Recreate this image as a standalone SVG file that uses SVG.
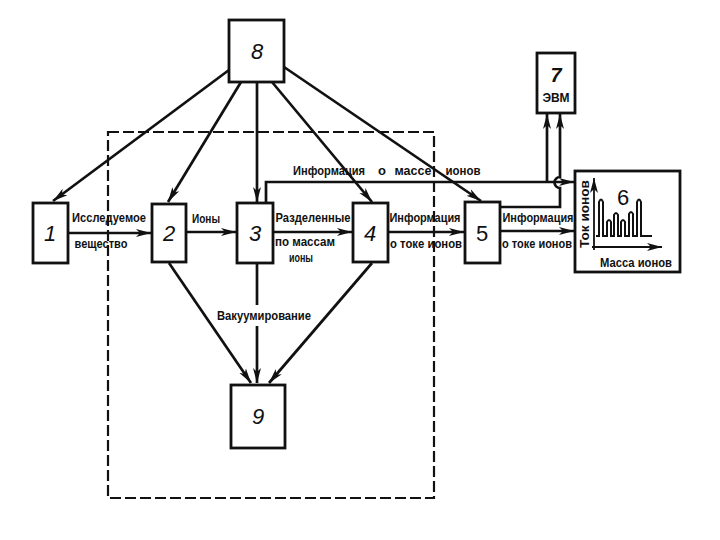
<svg xmlns="http://www.w3.org/2000/svg" width="720" height="540" viewBox="0 0 720 540">
<style>
.box{fill:#fff;stroke:#111;stroke-width:2.8}
.ln{fill:none;stroke:#111;stroke-width:2.7}
.num{font-family:"Liberation Sans",Arial,sans-serif;font-size:22px;font-style:italic;fill:#111;text-anchor:middle}
.lb{font-family:"Liberation Sans",Arial,sans-serif;font-size:13px;font-weight:bold;fill:#111}
.dash{fill:none;stroke:#111;stroke-width:2.2;stroke-dasharray:11 4}
</style>
<defs>
<marker id="ah" markerUnits="userSpaceOnUse" markerWidth="16" markerHeight="10" refX="15" refY="5" orient="auto">
<path d="M0,1 L15,5 L0,9 L4,5 Z" fill="#111"/>
</marker>
</defs>
<rect width="720" height="540" fill="#fff"/>
<rect class="dash" x="108" y="132" width="326" height="366"/>

<g id="connectors">
<line class="ln" x1="229" y1="70" x2="53" y2="201" marker-end="url(#ah)"/>
<line class="ln" x1="241" y1="82" x2="168" y2="202" marker-end="url(#ah)"/>
<line class="ln" x1="257" y1="82" x2="257" y2="202" marker-end="url(#ah)"/>
<line class="ln" x1="272" y1="82" x2="372" y2="202" marker-end="url(#ah)"/>
<line class="ln" x1="284" y1="67" x2="481" y2="201" marker-end="url(#ah)"/>
<line class="ln" x1="68" y1="233" x2="151" y2="233" marker-end="url(#ah)"/>
<line class="ln" x1="186" y1="232" x2="236" y2="232" marker-end="url(#ah)"/>
<line class="ln" x1="273" y1="232" x2="352" y2="232" marker-end="url(#ah)"/>
<line class="ln" x1="388" y1="232" x2="464" y2="232" marker-end="url(#ah)"/>
<line class="ln" x1="500" y1="231" x2="574" y2="231" marker-end="url(#ah)"/>
<line class="ln" x1="169" y1="263" x2="251" y2="383" marker-end="url(#ah)"/>
<line class="ln" x1="257" y1="263" x2="257" y2="305"/>
<line class="ln" x1="257" y1="326" x2="257" y2="383" marker-end="url(#ah)"/>
<line class="ln" x1="372" y1="263" x2="269" y2="383" marker-end="url(#ah)"/>
<polyline class="ln" points="266,203 266,182 574,182" marker-end="url(#ah)"/>
<line class="ln" x1="547" y1="182" x2="547" y2="114" marker-end="url(#ah)"/>
<path class="ln" d="M500,207 L560,207 L560,188 A5,5 0 0 1 560,177 L560,114" marker-end="url(#ah)"/>
</g>

<g id="node1"><rect class="box" x="33" y="203" width="35" height="60"/><text class="num" x="50" y="241">1</text></g>
<g id="node2"><rect class="box" x="152" y="204" width="34" height="58"/><text class="num" x="169" y="241">2</text></g>
<g id="node3"><rect class="box" x="237" y="203" width="36" height="60"/><text class="num" x="255" y="241">3</text></g>
<g id="node4"><rect class="box" x="353" y="203" width="35" height="59"/><text class="num" x="370" y="241">4</text></g>
<g id="node5"><rect class="box" x="465" y="202" width="35" height="61"/><text class="num" x="482" y="241" style="font-style:normal">5</text></g>
<g id="node8"><rect class="box" x="229" y="20" width="55" height="62"/><text class="num" x="257" y="59">8</text></g>
<g id="node9"><rect class="box" x="231" y="385" width="54" height="63"/><text class="num" x="258" y="424">9</text></g>
<g id="node7"><rect class="box" x="537" y="53" width="38" height="60"/>
<text class="num" x="556" y="82" style="font-size:20px;font-weight:bold">7</text>
<text class="lb" x="556" y="102" text-anchor="middle" style="font-size:12px">ЭВМ</text></g>
<g id="node6"><rect class="box" x="575" y="171" width="105" height="101"/>
<line class="ln" x1="594" y1="250" x2="594" y2="178" style="stroke-width:1.8" marker-end="url(#ah)"/>
<line class="ln" x1="592" y1="247" x2="662" y2="247" style="stroke-width:1.8" marker-end="url(#ah)"/>
<path class="ln" style="stroke-width:2" d="M596,236 L599,236 L599,202 Q601,197 603,202 L603,236 L607,236 L607,222 Q609,218 611,222 L611,236 L614,236 L614,215 Q616,211 618,215 L618,236 L621,236 L621,222 Q623,218 625,222 L625,236 L629,236 L629,214 Q631,210 633,214 L633,236 L637,236 L637,202 Q639,197 641,202 L641,236 L652,236"/>
<text class="num" x="623" y="205" style="font-style:normal;font-size:22px">6</text>
<text class="lb" transform="translate(589,214) rotate(-90)" text-anchor="middle" textLength="68" lengthAdjust="spacingAndGlyphs">Ток ионов</text>
<text class="lb" x="636" y="267" text-anchor="middle" textLength="72" lengthAdjust="spacingAndGlyphs">Масса ионов</text>
</g>

<g id="labels">
<text class="lb" x="109" y="222" text-anchor="middle" textLength="74" lengthAdjust="spacingAndGlyphs">Исследуемое</text>
<text class="lb" x="101" y="248" text-anchor="middle" textLength="53" lengthAdjust="spacingAndGlyphs">вещество</text>
<text class="lb" x="206" y="223" text-anchor="middle" textLength="28" lengthAdjust="spacingAndGlyphs">Ионы</text>
<text class="lb" x="313" y="222" text-anchor="middle" textLength="75" lengthAdjust="spacingAndGlyphs">Разделенные</text>
<text class="lb" x="305" y="246" text-anchor="middle" textLength="60" lengthAdjust="spacingAndGlyphs">по массам</text>
<text class="lb" x="301" y="262" text-anchor="middle" textLength="24" lengthAdjust="spacingAndGlyphs">ионы</text>
<text class="lb" x="425" y="222" text-anchor="middle" textLength="71" lengthAdjust="spacingAndGlyphs">Информация</text>
<text class="lb" x="426" y="248" text-anchor="middle" textLength="72" lengthAdjust="spacingAndGlyphs">о токе ионов</text>
<text class="lb" x="538" y="222" text-anchor="middle" textLength="71" lengthAdjust="spacingAndGlyphs">Информация</text>
<text class="lb" x="537" y="248" text-anchor="middle" textLength="70" lengthAdjust="spacingAndGlyphs">о токе ионов</text>
<text class="lb" x="329" y="175" text-anchor="middle" textLength="72" lengthAdjust="spacingAndGlyphs">Информация</text>
<text class="lb" x="382" y="175" text-anchor="middle">о</text>
<text class="lb" x="413" y="175" text-anchor="middle" textLength="37" lengthAdjust="spacingAndGlyphs">массе</text>
<text class="lb" x="463" y="175" text-anchor="middle" textLength="35" lengthAdjust="spacingAndGlyphs">ионов</text>
<text class="lb" x="264" y="320" text-anchor="middle" textLength="94" lengthAdjust="spacingAndGlyphs">Вакуумирование</text>
</g>
</svg>
